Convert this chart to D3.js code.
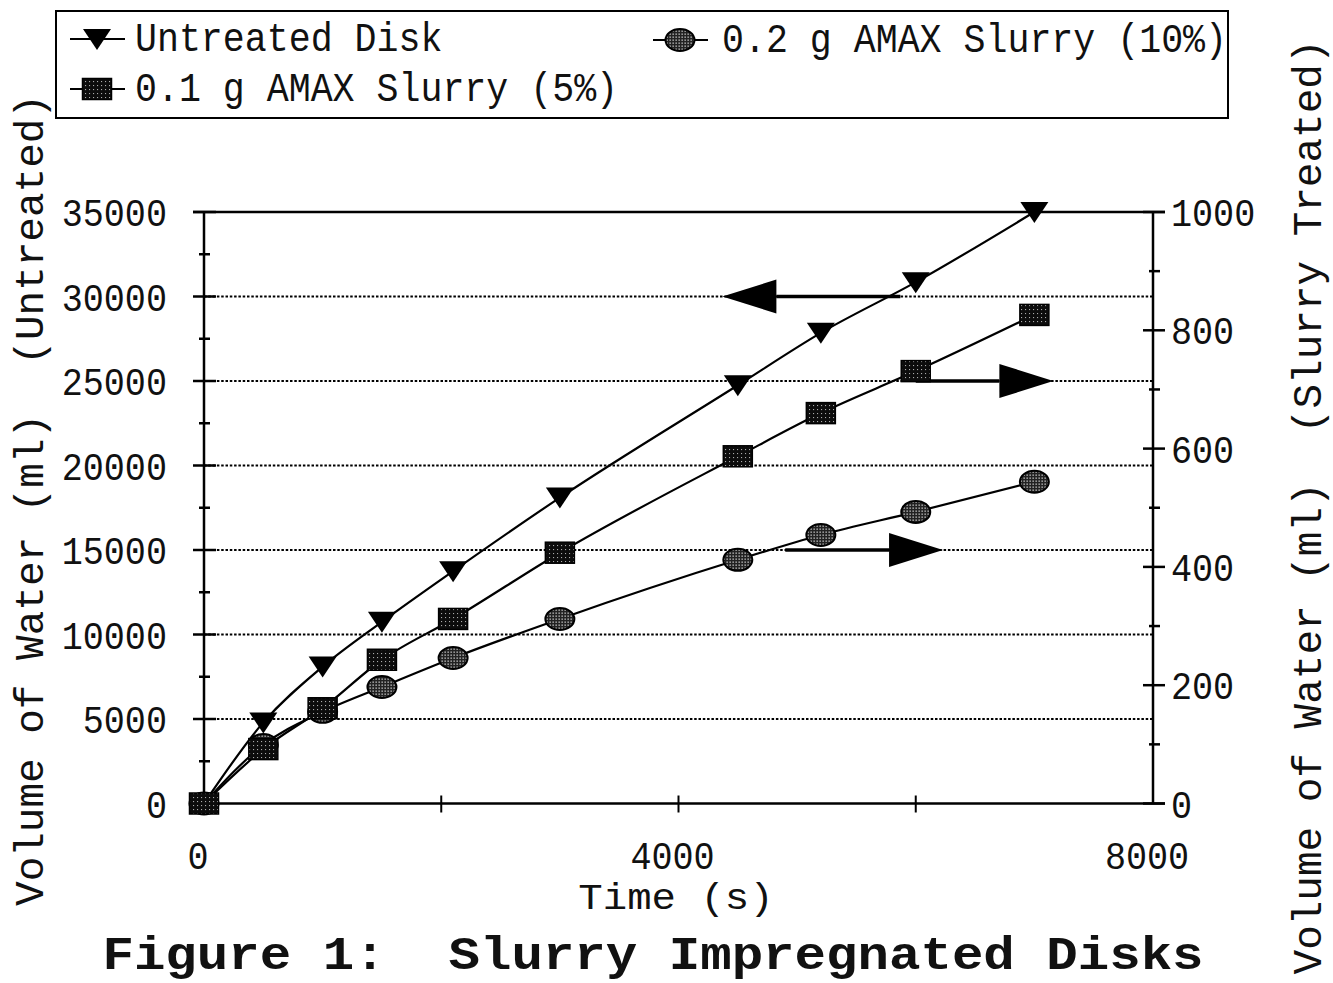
<!DOCTYPE html>
<html><head><meta charset="utf-8">
<script src="https://cdn.jsdelivr.net/npm/d3@7"></script>
<style>html,body{margin:0;padding:0;background:#fff;} svg{display:block}</style>
</head><body>
<svg id="chart" width="1333" height="983"></svg>
<script>
// ---------- data ----------
const times = [0, 500, 1000, 1500, 2100, 3000, 4500, 5200, 6000, 7000];
const untreated = [0, 4800, 8100, 10750, 13750, 18100, 24750, 27850, 30850, 35000]; // left axis
const slurry5 = [0, 92, 161, 243, 312, 424, 587, 660, 731, 826];                     // right axis
const slurry10 = [0, 99, 155, 197, 246, 312, 412, 454, 493, 544];                    // right axis
const seriesNames = ["Untreated Disk", "0.1 g AMAX Slurry (5%)", "0.2 g AMAX Slurry (10%)"];
const xTickLabels = [0, 4000, 8000];
const xTickMarks = [2000, 4000, 6000];
const leftTickLabels = [0, 5000, 10000, 15000, 20000, 25000, 30000, 35000];
const leftMinorTicks = [2500, 7500, 12500, 17500, 22500, 27500, 32500];
const rightTickLabels = [0, 200, 400, 600, 800, 1000];
const rightMinorTicks = [100, 300, 500, 700, 900];
const gridValues = [5000, 10000, 15000, 20000, 25000, 30000];
// arrows: level (left-axis units), start time, tip time
const arrowLevels = [30000, 25000, 15000];
const arrowFrom = [5870, 6000, 4900];
const arrowTo = [4370, 7160, 6230];
const xTitle = "Time (s)";
const yLeftTitle = "Volume of Water (ml)  (Untreated)";
const yRightTitle = "Volume of Water (ml)  (Slurry Treated)";
const figTitle = "Figure 1:  Slurry Impregnated Disks";

// ---------- setup ----------
const svg = d3.select("#chart");
const FONT = "'Liberation Mono','Courier New',monospace";
const x = d3.scaleLinear().domain([0, 8000]).range([204, 1153]);
const yL = d3.scaleLinear().domain([0, 35000]).range([803.5, 212]);
const yR = d3.scaleLinear().domain([0, 1000]).range([803.5, 212]);

const defs = svg.append("defs");
const pSq = defs.append("pattern").attr("id", "pSq").attr("width", 4).attr("height", 4).attr("patternUnits", "userSpaceOnUse");
pSq.append("rect").attr("width", 4).attr("height", 4).attr("fill", "#0c0c0c");
pSq.append("rect").attr("x", 1).attr("y", 1).attr("width", 1.1).attr("height", 1.1).attr("fill", "#aaa");
const pCi = defs.append("pattern").attr("id", "pCi").attr("width", 3).attr("height", 3).attr("patternUnits", "userSpaceOnUse");
pCi.append("rect").attr("width", 3).attr("height", 3).attr("fill", "#222");
pCi.append("rect").attr("x", 0.5).attr("y", 0.5).attr("width", 1.3).attr("height", 1.3).attr("fill", "#d0d0d0");

function txt(parent, px, py, s, size, o = {}) {
  let tr = `translate(${px},${py})`;
  if (o.rot) tr += ` rotate(${o.rot})`;
  tr += ` scale(${o.sx || 1},${o.sy || 1})`;
  const t = parent.append("g").attr("transform", tr).append("text")
    .attr("text-anchor", o.anchor || "start")
    .attr("font-family", FONT).attr("font-size", size)
    .attr("font-weight", o.weight || "normal")
    .attr("fill", "#111")
    .attr("xml:space", "preserve").style("white-space", "pre")
    .text(s);
  if (o.dy) t.attr("dy", o.dy);
  return t;
}

// markers
function triangle(g, cx, cy) {
  g.append("path").attr("d", `M${cx - 14},${cy - 10} L${cx + 14},${cy - 10} L${cx},${cy + 11} Z`).attr("fill", "#000");
}
function square(g, cx, cy) {
  g.append("rect").attr("x", cx - 14.5).attr("y", cy - 10.5).attr("width", 29).attr("height", 21)
    .attr("fill", "url(#pSq)").attr("stroke", "#000").attr("stroke-width", 1.5);
}
function ellipse(g, cx, cy) {
  g.append("ellipse").attr("cx", cx).attr("cy", cy).attr("rx", 14.5).attr("ry", 11)
    .attr("fill", "url(#pCi)").attr("stroke", "#000").attr("stroke-width", 2);
}

// ---------- grid ----------
const grid = svg.append("g");
grid.selectAll("line").data(gridValues).join("line")
  .attr("x1", x(0)).attr("x2", x(8000))
  .attr("y1", d => yL(d)).attr("y2", d => yL(d))
  .attr("stroke", "#000").attr("stroke-width", 2).attr("stroke-dasharray", "2.5,1.8");

// frame lines
const ax = svg.append("g").attr("stroke", "#000");
ax.append("line").attr("x1", x(0) - 11).attr("x2", x(8000) + 12).attr("y1", yL(35000)).attr("y2", yL(35000)).attr("stroke-width", 2.5);
ax.append("line").attr("x1", x(0) - 11).attr("x2", x(8000) + 12).attr("y1", yL(0)).attr("y2", yL(0)).attr("stroke-width", 2.5);
ax.append("line").attr("x1", x(0)).attr("x2", x(0)).attr("y1", yL(0)).attr("y2", yL(35000)).attr("stroke-width", 2.5);
ax.append("line").attr("x1", x(8000)).attr("x2", x(8000)).attr("y1", yR(0)).attr("y2", yR(1000)).attr("stroke-width", 2.5);

// left ticks
ax.selectAll(".lmaj").data(leftTickLabels).join("line").attr("class", "lmaj")
  .attr("x1", x(0) - 11).attr("x2", x(0) + 12).attr("y1", d => yL(d)).attr("y2", d => yL(d)).attr("stroke-width", 2.5);
ax.selectAll(".lmin").data(leftMinorTicks).join("line").attr("class", "lmin")
  .attr("x1", x(0) - 5).attr("x2", x(0) + 6).attr("y1", d => yL(d)).attr("y2", d => yL(d)).attr("stroke-width", 2.5);
// right ticks
ax.selectAll(".rmaj").data(rightTickLabels).join("line").attr("class", "rmaj")
  .attr("x1", x(8000) - 10).attr("x2", x(8000) + 12).attr("y1", d => yR(d)).attr("y2", d => yR(d)).attr("stroke-width", 2.5);
ax.selectAll(".rmin").data(rightMinorTicks).join("line").attr("class", "rmin")
  .attr("x1", x(8000) - 4).attr("x2", x(8000) + 7).attr("y1", d => yR(d)).attr("y2", d => yR(d)).attr("stroke-width", 2.5);
// bottom ticks
ax.selectAll(".bt").data(xTickMarks).join("line").attr("class", "bt")
  .attr("x1", d => x(d)).attr("x2", d => x(d)).attr("y1", yL(0) - 8).attr("y2", yL(0) + 9).attr("stroke-width", 2);

// tick labels
leftTickLabels.forEach(v => txt(svg, 167, yL(v), String(v), 39, { anchor: "end", sx: 0.9, dy: "0.36em" }));
rightTickLabels.forEach(v => txt(svg, 1171, yR(v), String(v), 39, { anchor: "start", sx: 0.9, dy: "0.36em" }));
xTickLabels.forEach(v => txt(svg, x(v) - 6, 869, String(v), 39, { anchor: "middle", sx: 0.9 }));

// axis titles
txt(svg, 676, 909, xTitle, 37, { anchor: "middle", sx: 1.1 });
txt(svg, 43, 500, yLeftTitle, 41, { anchor: "middle", rot: -90 });
txt(svg, 1321, 507, yRightTitle, 41, { anchor: "middle", rot: -90 });
txt(svg, 653, 969, figTitle, 46, { anchor: "middle", sx: 1.14, weight: "bold" });

// ---------- series ----------
const curve = d3.curveMonotoneX;
const lineL = d3.line().x(d => x(d[0])).y(d => yL(d[1])).curve(curve);
const lineR = d3.line().x(d => x(d[0])).y(d => yR(d[1])).curve(curve);
const dU = times.map((t, i) => [t, untreated[i]]);
const d5 = times.map((t, i) => [t, slurry5[i]]);
const d10 = times.map((t, i) => [t, slurry10[i]]);

const lines = svg.append("g").attr("fill", "none").attr("stroke", "#000").attr("stroke-width", 2.2);
lines.append("path").attr("d", lineR(d10));
lines.append("path").attr("d", lineL(dU));
lines.append("path").attr("d", lineR(d5));

// arrows
const arr = svg.append("g");
arrowLevels.forEach((lv, i) => {
  const y0 = yL(lv), x0 = x(arrowFrom[i]), x1 = x(arrowTo[i]);
  const dir = Math.sign(x1 - x0), L = 54, H = 17;
  arr.append("line").attr("x1", x0).attr("x2", x1 - dir * L).attr("y1", y0).attr("y2", y0)
    .attr("stroke", "#000").attr("stroke-width", 3.5);
  arr.append("path").attr("d", `M${x1},${y0} L${x1 - dir * L},${y0 - H} L${x1 - dir * L},${y0 + H} Z`).attr("fill", "#000");
});

// markers
const mk = svg.append("g");
d10.forEach(d => ellipse(mk, x(d[0]), yR(d[1])));
dU.forEach(d => triangle(mk, x(d[0]), yL(d[1])));
d5.forEach(d => square(mk, x(d[0]), yR(d[1])));

// ---------- legend ----------
const lg = svg.append("g");
lg.append("rect").attr("x", 56).attr("y", 11).attr("width", 1172).attr("height", 107)
  .attr("fill", "none").attr("stroke", "#000").attr("stroke-width", 2);
const legendItems = [
  { name: seriesNames[0], mx: 97, my: 39, tx: 135, ty: 51, draw: triangle },
  { name: seriesNames[1], mx: 97, my: 89, tx: 135, ty: 101, draw: square },
  { name: seriesNames[2], mx: 680, my: 40, tx: 722, ty: 52, draw: ellipse }
];
legendItems.forEach(it => {
  lg.append("line").attr("x1", it.mx - 27).attr("x2", it.mx + 28).attr("y1", it.my).attr("y2", it.my)
    .attr("stroke", "#000").attr("stroke-width", 2.2);
  it.draw(lg, it.mx, it.my);
  txt(lg, it.tx, it.ty, it.name, 40, { sx: 0.915 });
});
</script>
</body></html>
